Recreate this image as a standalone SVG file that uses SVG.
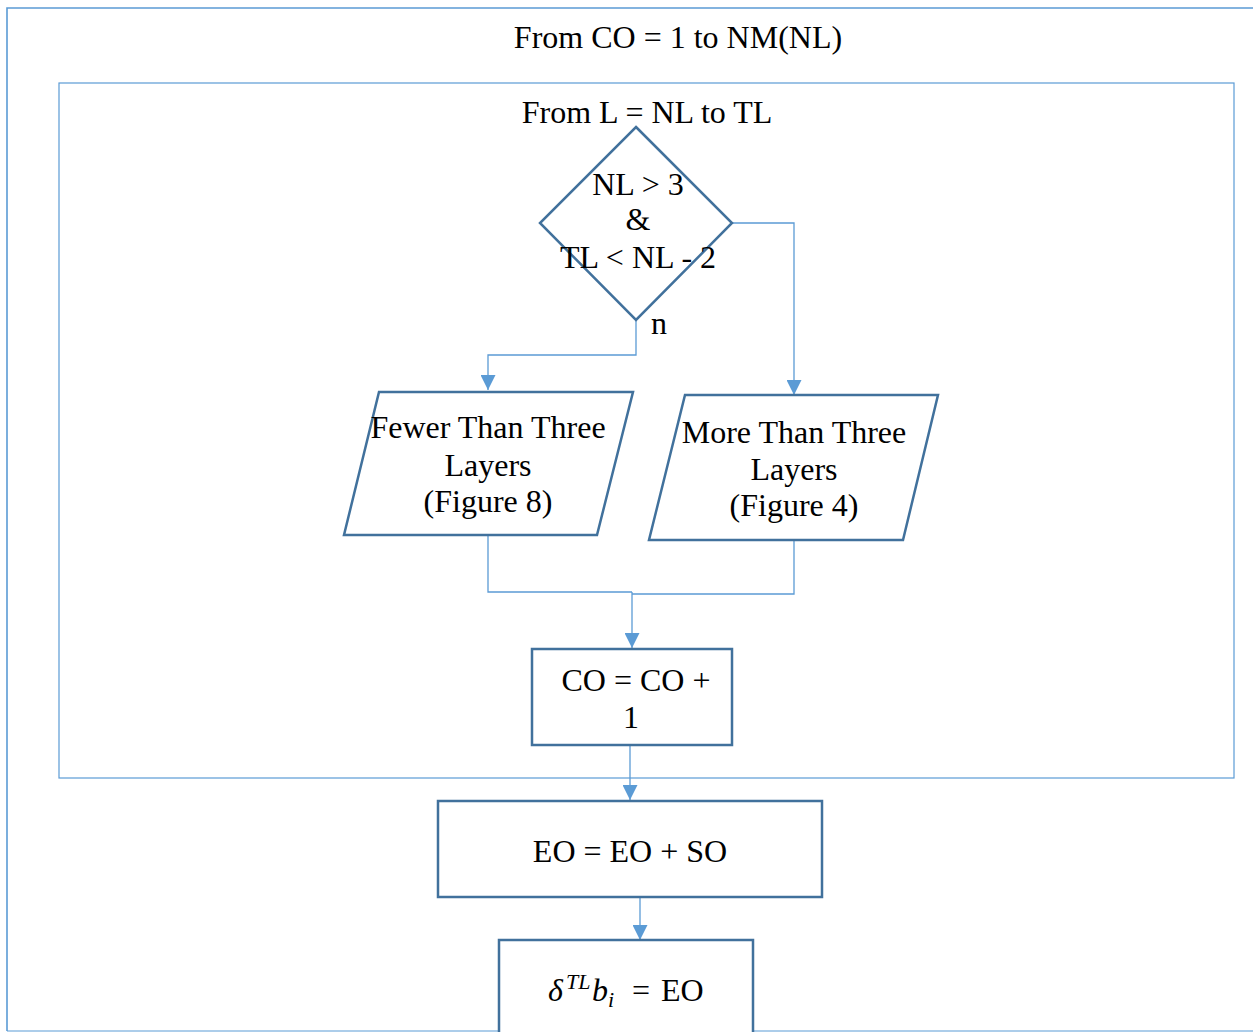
<svg xmlns="http://www.w3.org/2000/svg" width="1253" height="1032" viewBox="0 0 1253 1032">
  <style>
    .frame { fill: none; stroke: #5B9BD5; }
    .node { fill: #FFFFFF; stroke: #41719C; stroke-width: 2.5; }
    .conn { fill: none; stroke: #5B9BD5; stroke-width: 1.3; }
    .t { font-family: "Liberation Serif", "Times New Roman", serif; font-size: 32px; fill: #000000; text-anchor: middle; }
    .m { font-family: "Liberation Serif", "Times New Roman", serif; font-size: 32px; fill: #000000; }
    .i { font-style: italic; }
  </style>
  <defs>
    <marker id="arrowL" viewBox="0 0 10 10" refX="10" refY="5" markerWidth="15" markerHeight="15" markerUnits="userSpaceOnUse" orient="auto">
      <path d="M0,0 L10,5 L0,10 z" fill="#5B9BD5"/>
    </marker>
  </defs>
  <rect width="1253" height="1032" fill="#FFFFFF"/>

  <!-- loop frames -->
  <g id="outer-loop">
    <path class="frame" stroke-width="1.6" d="M7,1031 V8 H1253"/>
    <line class="frame" stroke-width="1.2" x1="7" y1="1031" x2="1253" y2="1031"/>
    <text class="t" x="678" y="48">From CO = 1 to NM(NL)</text>
  </g>
  <g id="inner-loop">
    <rect class="frame" stroke-width="1.2" x="59" y="83" width="1175" height="695"/>
    <text class="t" x="647" y="123">From L = NL to TL</text>
  </g>

  <!-- connectors -->
  <g id="connectors">
    <path class="conn" d="M636,320 V355 H488 V390" marker-end="url(#arrowL)"/>
    <path class="conn" d="M732,223 H794 V395" marker-end="url(#arrowL)"/>
    <path class="conn" d="M488,535 V592 H632"/>
    <path class="conn" d="M794,540 V594 H632"/>
    <path class="conn" d="M632,592 V648" marker-end="url(#arrowL)"/>
    <path class="conn" d="M630,745 V800" marker-end="url(#arrowL)"/>
    <path class="conn" d="M640,897 V940" marker-end="url(#arrowL)"/>
    <text class="t" x="659" y="334">n</text>
  </g>

  <!-- decision -->
  <g id="decision">
    <polygon class="node" style="fill:none" points="636,127 732,223 636,320 540,223"/>
    <text class="t" x="638" y="195">NL &gt; 3</text>
    <text class="t" x="638" y="230">&amp;</text>
    <text class="t" x="638" y="268">TL &lt; NL - 2</text>
  </g>

  <!-- fewer than three layers -->
  <g id="fewer-layers">
    <polygon class="node" points="379,392 633,392 597,535 344,535"/>
    <text class="t" x="488" y="438">Fewer Than Three</text>
    <text class="t" x="488" y="476">Layers</text>
    <text class="t" x="488" y="512">(Figure 8)</text>
  </g>

  <!-- more than three layers -->
  <g id="more-layers">
    <polygon class="node" points="685,395 938,395 903,540 649,540"/>
    <text class="t" x="794" y="443">More Than Three</text>
    <text class="t" x="794" y="480">Layers</text>
    <text class="t" x="794" y="516">(Figure 4)</text>
  </g>

  <!-- counter increment -->
  <g id="co-increment">
    <rect class="node" x="532" y="649" width="200" height="96"/>
    <text class="t" x="636" y="691">CO = CO +</text>
    <text class="t" x="631" y="728">1</text>
  </g>

  <!-- error accumulation -->
  <g id="eo-update">
    <rect class="node" x="438" y="801" width="384" height="96"/>
    <text class="t" x="630" y="862">EO = EO + SO</text>
  </g>

  <!-- bias delta -->
  <g id="bias-delta">
    <path class="node" d="M499,1032 V940 H753 V1032"/>
    <text class="m" y="1001"><tspan class="i" x="548">δ</tspan><tspan class="i" font-size="22" x="566" y="989">TL</tspan><tspan class="i" x="592" y="1001">b</tspan><tspan class="i" font-size="22" x="608" y="1007">i</tspan><tspan x="632" y="1001">=</tspan><tspan x="661" y="1001">EO</tspan></text>
  </g>
</svg>
